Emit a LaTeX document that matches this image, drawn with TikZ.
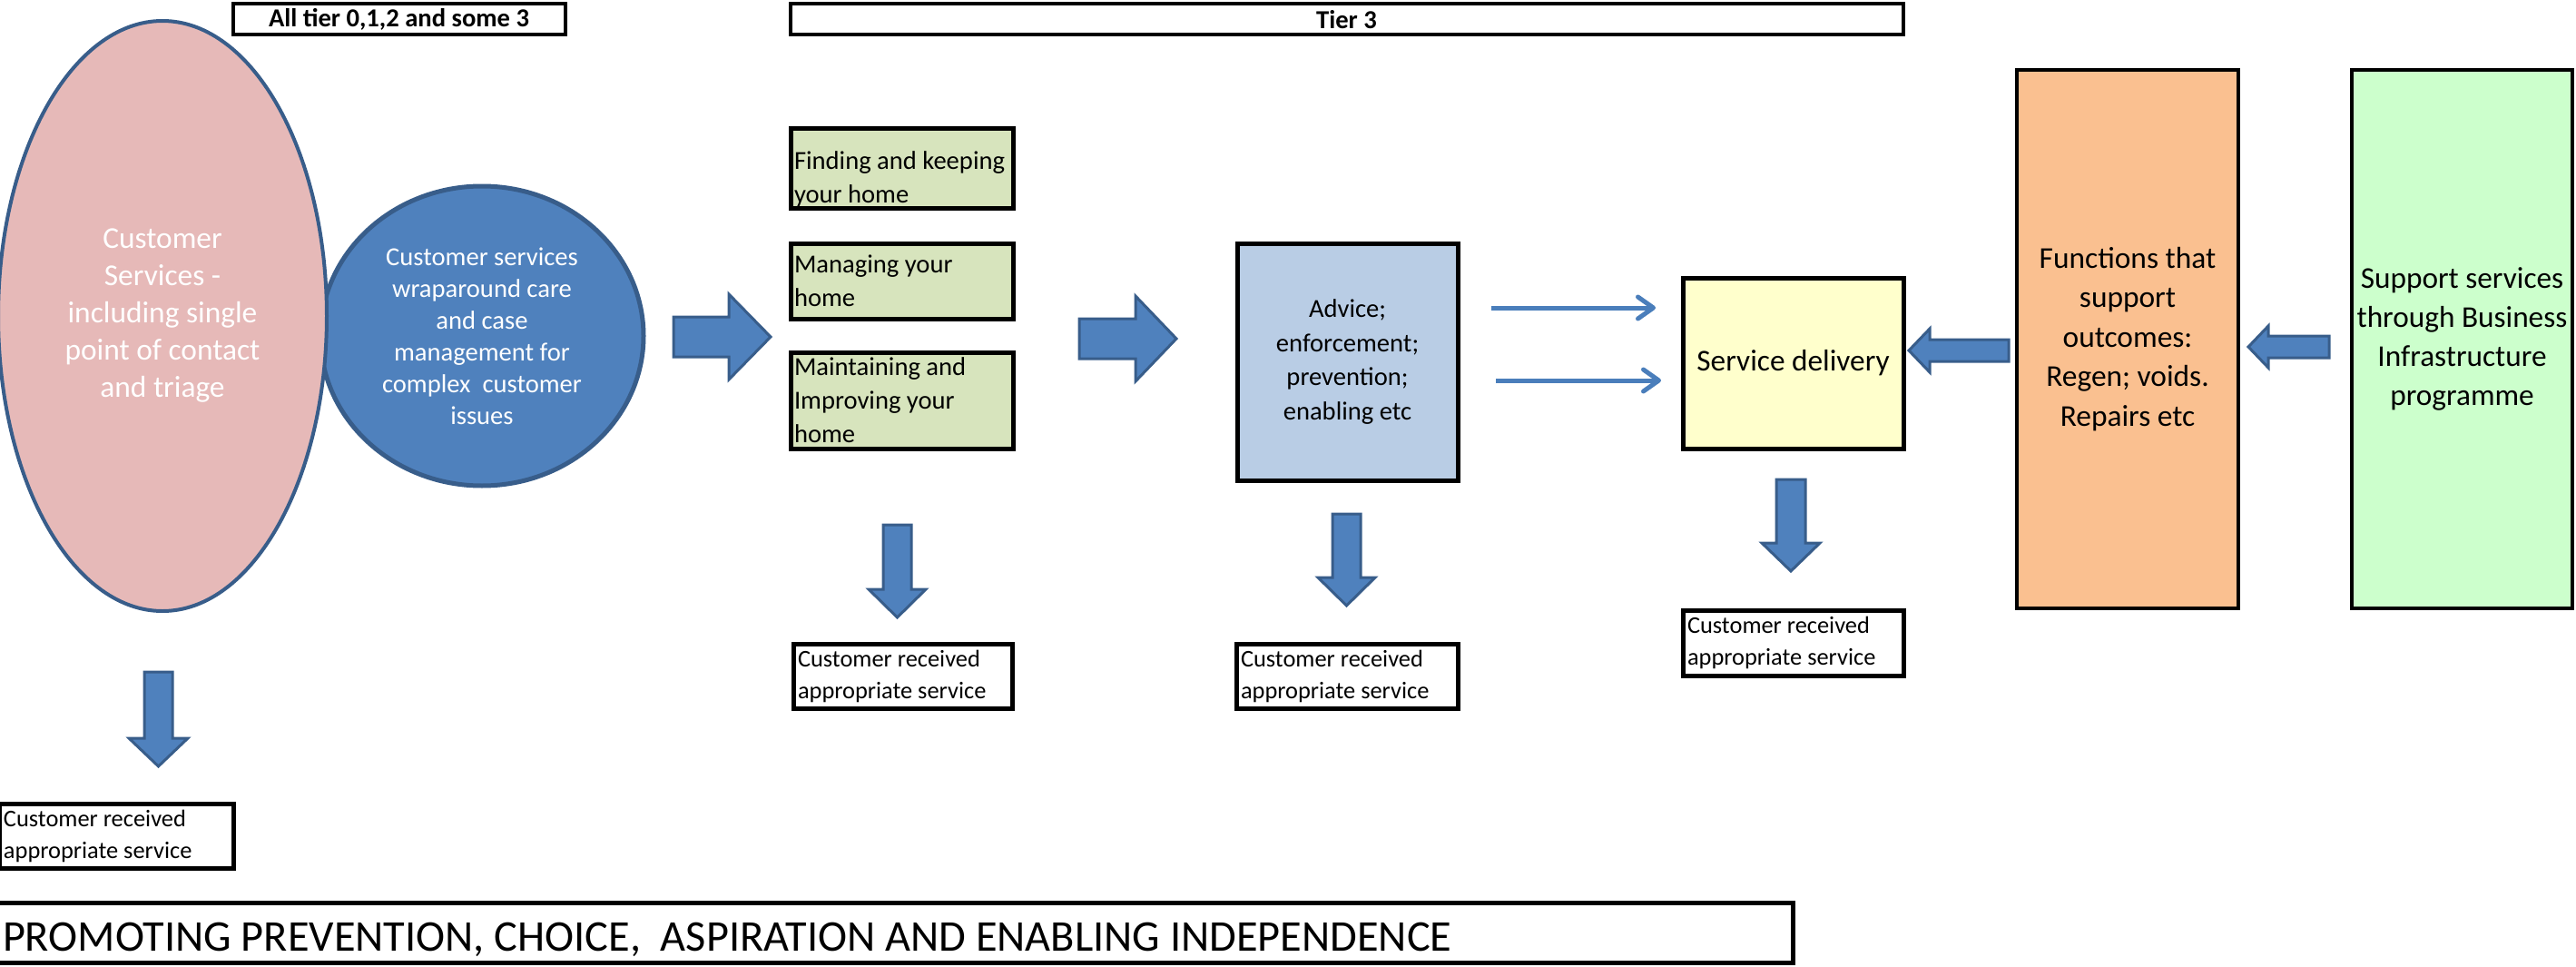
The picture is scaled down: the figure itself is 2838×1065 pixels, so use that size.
\documentclass[tikz,border=0pt]{standalone}
\usepackage{fontspec}
\setmainfont{Carlito}
\usetikzlibrary{shapes.geometric,arrows.meta}
\definecolor{pinkfill}{HTML}{E6B9B8}
\definecolor{bluefill}{HTML}{4F81BD}
\definecolor{blueline}{HTML}{385D8A}
\definecolor{greenfill}{HTML}{D7E4BD}
\definecolor{advfill}{HTML}{B9CDE5}
\definecolor{sdfill}{HTML}{FFFFCC}
\definecolor{orfill}{HTML}{FAC090}
\definecolor{grfill}{HTML}{CCFFCC}
\definecolor{thinblue}{HTML}{4A7EBB}
\hyphenpenalty=10000
\exhyphenpenalty=10000
\begin{document}
\begin{tikzpicture}[x=1pt,y=-1pt,
  box/.style={rectangle, draw=black, line width=5pt, inner sep=0pt},
  toplabel/.style={box, line width=4pt, minimum height=34pt, font=\bfseries\fontsize{28.6}{34}\selectfont},
  gbox/.style={box, fill=greenfill, minimum width=245pt, text width=237pt, inner xsep=4pt, align=flush left,
    font=\fontsize{28.6}{37}\selectfont},
  crbox/.style={box, minimum height=71pt, inner xsep=5pt, align=flush left,
    font=\fontsize{26.4}{35}\selectfont},
  barrow/.style={fill=bluefill, draw=blueline, line width=3pt, line join=miter},
  thinarrow/.style={draw=thinblue, line width=5pt, -{Straight Barb[length=17pt,width=24pt,round]}},
  blob/.style={ellipse, inner sep=0pt, align=flush center, text=white}
]
\useasboundingbox (0,0) rectangle (2838,1065);

% top labels
\node[toplabel, minimum width=366pt] (lbl1) at (439.5,21.5) {All tier 0,1,2 and some 3};
\node[toplabel, minimum width=1226pt] (lbl2) at (1483.5,21.5) {Tier 3};

% circles
\node[blob, draw=blueline, line width=5pt, fill=bluefill, minimum width=356pt, minimum height=330pt,
      font=\fontsize{28.6}{35}\selectfont] (wrap) at (531,370)
  {Customer services\\wraparound care\\and case\\management for\\complex\ \ customer\\issues};
\node[blob, draw=blueline, line width=4pt, fill=pinkfill, minimum width=362pt, minimum height=650pt,
      font=\fontsize{33.4}{41}\selectfont] (cs) at (179,348)
  {Customer\\Services -\\including single\\point of contact\\and triage};

% green boxes
\node[gbox, minimum height=88pt] (g1) at (993.5,185) {\rule{0pt}{44pt}Finding and keeping\\your home};
\node[gbox, minimum height=83pt] (g2) at (993.5,309.5) {Managing your\\home};
\node[gbox, minimum height=106pt] (g3) at (993.5,441) {Maintaining and\\Improving your\\home};

% advice
\node[box, fill=advfill, minimum width=243pt, minimum height=261pt, align=flush center,
      font=\fontsize{28.6}{37.5}\selectfont] (adv) at (1484.5,398.5)
  {Advice;\\enforcement;\\prevention;\\enabling etc};

% service delivery
\node[box, fill=sdfill, minimum width=243pt, minimum height=188pt,
      font=\fontsize{33.3}{41}\selectfont] (sd) at (1975.5,400) {Service delivery};

% orange and green right
\node[box, line width=4.5pt, fill=orfill, minimum width=244pt, minimum height=593pt, align=flush center,
      font=\fontsize{33.4}{43.5}\selectfont] (fun) at (2344,373.5)
  {Functions that\\support\\outcomes:\\Regen; voids.\\Repairs etc};
\node[box, line width=4.5pt, fill=grfill, minimum width=243pt, minimum height=593pt, align=flush center,
      font=\fontsize{33.3}{43}\selectfont] (sup) at (2712.5,373.5)
  {Support services\\through Business\\Infrastructure\\programme};

% customer received boxes
\node[crbox, minimum width=258pt, text width=248pt] (cr1) at (128,920.5) {Customer received\\appropriate service};
\node[crbox, minimum width=241pt, text width=231pt] (cr2) at (994.5,744.5) {Customer received\\appropriate service};
\node[crbox, minimum width=244pt, text width=234pt] (cr3) at (1484,744.5) {Customer received\\appropriate service};
\node[crbox, minimum width=243pt, minimum height=72pt, text width=233pt] (cr4) at (1975.5,708) {Customer received\\appropriate service};

% banner
\node[box, minimum width=1978pt, minimum height=66pt, text width=1966pt, inner xsep=6pt, align=flush left,
      font=\fontsize{48.3}{56}\selectfont] (ban) at (986,1027)
  {\raisebox{-8pt}[\height][\depth]{PROMOTING PREVENTION, CHOICE,\ \ ASPIRATION AND ENABLING INDEPENDENCE}};

% block arrows (right)
\draw[barrow] (742,349) -- (803,349) -- (803,324) -- (849,371) -- (803,418) -- (803,393) -- (742,393) -- cycle;
\draw[barrow] (1189,351) -- (1251,351) -- (1251,326) -- (1296,373) -- (1251,420) -- (1251,395) -- (1189,395) -- cycle;
% block arrows (left)
\draw[barrow] (2213,374) -- (2126,374) -- (2126,362) -- (2103,386) -- (2126,410) -- (2126,398) -- (2213,398) -- cycle;
\draw[barrow] (2566,370) -- (2499,370) -- (2499,359) -- (2477,382) -- (2499,405) -- (2499,394) -- (2566,394) -- cycle;
% block arrows (down)
\draw[barrow] (159,740) -- (190,740) -- (190,813) -- (207,813) -- (174.5,844) -- (142,813) -- (159,813) -- cycle;
\draw[barrow] (973,578) -- (1004,578) -- (1004,649) -- (1020,649) -- (988.5,680) -- (957,649) -- (973,649) -- cycle;
\draw[barrow] (1468,566) -- (1499,566) -- (1499,636) -- (1515,636) -- (1483.5,667) -- (1452,636) -- (1468,636) -- cycle;
\draw[barrow] (1957,528) -- (1989,528) -- (1989,598) -- (2005,598) -- (1973,629) -- (1941,598) -- (1957,598) -- cycle;

% thin arrows from advice to service delivery
\coordinate (t1s) at (1643,339);
\coordinate (t1e) at (1824,339);
\coordinate (t2s) at (1648,419);
\coordinate (t2e) at (1830,419);
\draw[thinarrow] (t1s) -- (t1e);
\draw[thinarrow] (t2s) -- (t2e);
\end{tikzpicture}
\end{document}
